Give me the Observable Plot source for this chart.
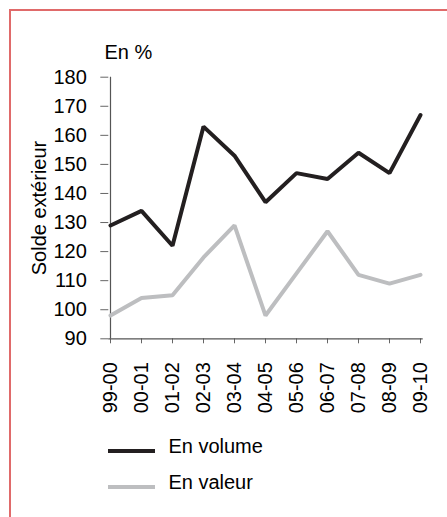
<!DOCTYPE html>
<html><head><meta charset="utf-8">
<script src="https://cdn.jsdelivr.net/npm/d3@7"></script>
<script src="https://cdn.jsdelivr.net/npm/@observablehq/plot@0.6"></script>
<style>
html,body{margin:0;padding:0;background:#fff;}
body{font-family:"Liberation Sans",Arial,sans-serif;color:#000;}
#wrap{position:relative;width:447px;height:517px;overflow:hidden;}
#frame{position:absolute;left:9px;top:9px;width:460px;height:530px;border-left:2px solid #e06a6a;border-top:2px solid #e06a6a;box-sizing:border-box;}
#unit{position:absolute;left:104.5px;top:41.7px;font-size:20px;line-height:20px;white-space:nowrap;}
#chart{position:absolute;left:0;top:60px;}
.leg{position:absolute;left:168.4px;font-size:20px;line-height:20px;white-space:nowrap;}
.sw{position:absolute;left:108px;width:47px;height:4px;}
</style>
</head><body>
<div id="wrap">
  <div id="frame"></div>
  <div id="unit"></div>
  <div id="chart"></div>
  <div class="sw" id="sw0" style="top:448.7px"></div>
  <div class="leg" id="lg0" style="top:436.2px"></div>
  <div class="sw" id="sw1" style="top:484.7px"></div>
  <div class="leg" id="lg1" style="top:472.3px"></div>
</div>
<script>
const categories = ["99-00","00-01","01-02","02-03","03-04","04-05","05-06","06-07","07-08","08-09","09-10"];
const enVolume = [129, 134, 122, 163, 153, 137, 147, 145, 154, 147, 167];
const enValeur = [98, 104, 105, 118, 129, 98, 112.5, 127, 112, 109, 112];
const yTicks = [90, 100, 110, 120, 130, 140, 150, 160, 170, 180];
const seriesNames = ["En volume", "En valeur"];
const seriesColors = ["#231f20", "#bdbec0"];
const unitLabel = "En %";
const yLabel = "Solde extérieur";

const volData = categories.map((c, i) => ({cat: c, v: enVolume[i]}));
const valData = categories.map((c, i) => ({cat: c, v: enValeur[i]}));

const chart = Plot.plot({
  width: 447,
  height: 360,
  marginTop: 16.7,
  marginBottom: 81.7,
  marginLeft: 108.3,
  marginRight: 24.3,
  style: {fontFamily: "'Liberation Sans', Arial, sans-serif", fontSize: "20px", color: "#000", background: "transparent"},
  x: {type: "point", domain: categories, padding: 0},
  y: {domain: [90, 180]},
  marks: [
    Plot.axisY({ticks: yTicks, tickSize: 8, tickPadding: 14, stroke: "#666", fill: "#000", label: null}),
    Plot.axisX({tickSize: 5, stroke: "#666", tickFormat: () => "", label: null}),
    Plot.text(categories, {x: d => d, y: 90, rotate: -90, textAnchor: "end", lineAnchor: "middle", dy: 23.4, fill: "#000"}),
    Plot.text([yLabel], {frameAnchor: "left", rotate: -90, textAnchor: "middle", lineAnchor: "middle", dx: -69.7, fill: "#000"}),
    Plot.ruleX([categories[0]], {stroke: "#555", strokeWidth: 1.2}),
    Plot.ruleY([90], {stroke: "#555", strokeWidth: 1.2}),
    Plot.line(valData, {x: "cat", y: "v", stroke: seriesColors[1], strokeWidth: 4, strokeLinejoin: "miter"}),
    Plot.line(volData, {x: "cat", y: "v", stroke: seriesColors[0], strokeWidth: 4, strokeLinejoin: "miter"})
  ]
});
document.getElementById("chart").appendChild(chart);
document.getElementById("unit").textContent = unitLabel;
document.getElementById("lg0").textContent = seriesNames[0];
document.getElementById("lg1").textContent = seriesNames[1];
document.getElementById("sw0").style.background = seriesColors[0];
document.getElementById("sw1").style.background = seriesColors[1];
</script>
</body></html>
